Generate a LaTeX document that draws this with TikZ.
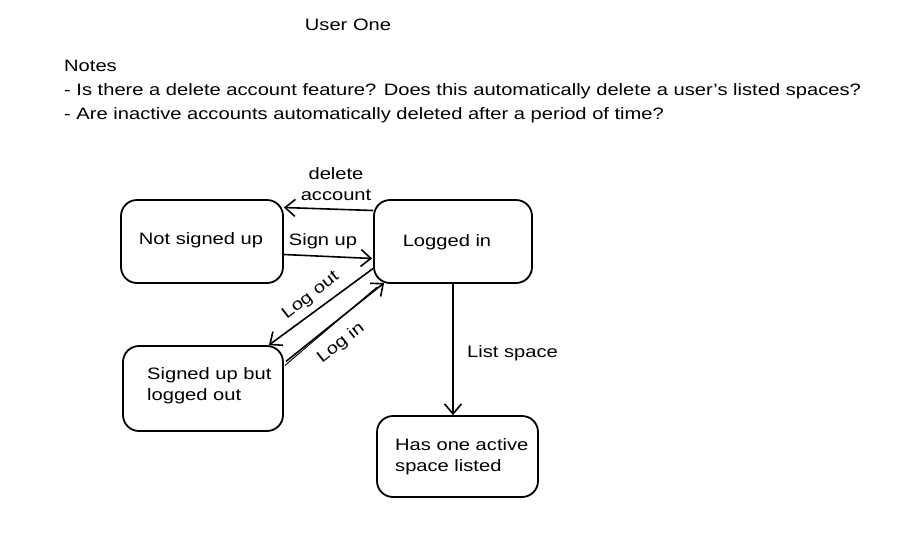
\documentclass[tikz,border=0pt]{standalone}
\usepackage{fontspec}
\setmainfont[FakeStretch=1.22]{Liberation Sans}
\usetikzlibrary{arrows.meta,calc}
\begin{document}
\begin{tikzpicture}[x=1pt,y=-1pt,
  txt/.style={font=\fontsize{16.5}{22}\selectfont, inner sep=0pt},
  state/.style={draw=black, line width=1.8pt, rounded corners=16pt, minimum width=#1, inner sep=0pt},
  conn/.style={line width=1.6pt, -{Straight Barb[length=10pt,width=17pt,line width=1.6pt]}},
  lab/.style={font=\fontsize{16.5}{20}\selectfont, inner sep=0pt, align=center}]
\useasboundingbox (0,0) rectangle (915,536);
% title and notes
\node[txt] (title) at (348,25) {User One};
\node[txt, anchor=north west, align=left, font=\fontsize{16.5}{24}\selectfont] (notes) at (64,60)
  {Notes\\- Is there a delete account feature? Does this automatically delete a user's listed spaces?\\- Are inactive accounts automatically deleted after a period of time?};
% states
\node[state=162pt, minimum height=83pt] (nsu) at (202,241.5) {};
\node[txt] (nsut) at (201,240) {Not signed up};
\node[state=158pt, minimum height=83pt] (li) at (453,241.5) {};
\node[txt] (lit) at (447,242) {Logged in};
\node[state=160pt, minimum height=85pt] (sulo) at (203,388.5) {};
\node[txt, anchor=west, align=left, font=\fontsize{16.5}{21}\selectfont] (sulot) at (147,386) {Signed up but\\logged out};
\node[state=161pt, minimum height=81pt] (has) at (457.5,456.5) {};
\node[txt, anchor=west, align=left, font=\fontsize{16.5}{21}\selectfont] (hast) at (395,457) {Has one active\\space listed};
% connectors
\draw[conn] ($(li.west)+(0,-31)$) -- ($(nsu.east)+(0,-34)$);
\node[lab, font=\fontsize{16.5}{21}\selectfont] (ldel) at (336,184) {delete\\account};
\draw[conn] ($(nsu.east)+(0,13)$) -- ($(li.west)+(-1,17)$);
\node[lab] (lsign) at (323,241) {Sign up};
\draw[conn] ($(li.west)+(0,27)$) -- ($(sulo.north east)+(-15,0)$);
\node[lab, rotate=38] (lout) at (311,296) {Log out};
\draw[conn] ($(sulo.east)+(2,-27)$) -- ($(li.south west)+(11,-1)$);
\draw[line width=0.9pt] ($(sulo.east)+(1,-23)$) -- ($(li.south west)+(4,3)$);
\node[lab, rotate=38] (lin) at (341,343) {Log in};
\draw[conn] (li.south) -- ($(has.north)+(-4.5,0)$);
\node[lab, anchor=west] (llist) at (467,353) {List space};
\end{tikzpicture}
\end{document}
